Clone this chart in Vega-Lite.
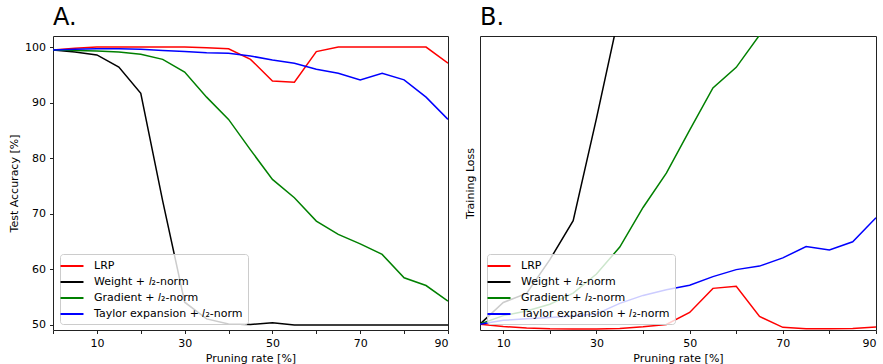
{
  "$schema": "https://vega.github.io/schema/vega-lite/v6.json",
  "padding": {"left": 8, "top": 5, "right": 3, "bottom": 1},
  "background": "white",
  "config": {
    "font": "DejaVu Sans",
    "view": {"stroke": "#222", "strokeWidth": 1},
    "axis": {"grid": false, "domain": false, "labelFontSize": 11, "titleFontSize": 11, "titleFontWeight": "normal", "labelColor": "#000", "titleColor": "#000", "tickColor": "#222", "tickSize": 3.5, "labelPadding": 4},
    "axisX": {"titlePadding": 3.5},
    "axisY": {"titlePadding": 5},
    "title": {"fontSize": 24, "fontWeight": "normal", "anchor": "start", "frame": "group", "color": "#000", "offset": 6},
    "legend": {"fillColor": "rgba(255,255,255,0.8)", "strokeColor": "#cccccc", "cornerRadius": 3, "padding": 5, "labelFontSize": 11, "labelColor": "#000", "symbolType": "M-2,0H2", "symbolSize": 132, "symbolStrokeWidth": 2, "labelOffset": 15, "rowPadding": 4, "labelLimit": 300}
  },
  "datasets": {
    "acc": [
      {"x": 0, "y": 99.5, "method": "LRP"}, {"x": 5, "y": 99.8, "method": "LRP"}, {"x": 10, "y": 100, "method": "LRP"}, {"x": 15, "y": 100, "method": "LRP"}, {"x": 20, "y": 100, "method": "LRP"}, {"x": 25, "y": 100, "method": "LRP"}, {"x": 30, "y": 100, "method": "LRP"}, {"x": 35, "y": 99.9, "method": "LRP"}, {"x": 40, "y": 99.7, "method": "LRP"}, {"x": 45, "y": 97.8, "method": "LRP"}, {"x": 50, "y": 93.9, "method": "LRP"}, {"x": 55, "y": 93.7, "method": "LRP"}, {"x": 60, "y": 99.2, "method": "LRP"}, {"x": 65, "y": 100, "method": "LRP"}, {"x": 70, "y": 100, "method": "LRP"}, {"x": 75, "y": 100, "method": "LRP"}, {"x": 80, "y": 100, "method": "LRP"}, {"x": 85, "y": 100, "method": "LRP"}, {"x": 90, "y": 97.1, "method": "LRP"},
      {"x": 0, "y": 99.5, "method": "Weight + 𝑙₂-norm"}, {"x": 5, "y": 99.1, "method": "Weight + 𝑙₂-norm"}, {"x": 10, "y": 98.6, "method": "Weight + 𝑙₂-norm"}, {"x": 15, "y": 96.4, "method": "Weight + 𝑙₂-norm"}, {"x": 20, "y": 91.7, "method": "Weight + 𝑙₂-norm"}, {"x": 25, "y": 72.3, "method": "Weight + 𝑙₂-norm"}, {"x": 30, "y": 54.1, "method": "Weight + 𝑙₂-norm"}, {"x": 35, "y": 51.1, "method": "Weight + 𝑙₂-norm"}, {"x": 40, "y": 50.2, "method": "Weight + 𝑙₂-norm"}, {"x": 45, "y": 50.1, "method": "Weight + 𝑙₂-norm"}, {"x": 50, "y": 50.4, "method": "Weight + 𝑙₂-norm"}, {"x": 55, "y": 50.0, "method": "Weight + 𝑙₂-norm"}, {"x": 60, "y": 50.0, "method": "Weight + 𝑙₂-norm"}, {"x": 65, "y": 50.0, "method": "Weight + 𝑙₂-norm"}, {"x": 70, "y": 50.0, "method": "Weight + 𝑙₂-norm"}, {"x": 75, "y": 50.0, "method": "Weight + 𝑙₂-norm"}, {"x": 80, "y": 50.0, "method": "Weight + 𝑙₂-norm"}, {"x": 85, "y": 50.0, "method": "Weight + 𝑙₂-norm"}, {"x": 90, "y": 50.0, "method": "Weight + 𝑙₂-norm"},
      {"x": 0, "y": 99.5, "method": "Gradient + 𝑙₂-norm"}, {"x": 5, "y": 99.4, "method": "Gradient + 𝑙₂-norm"}, {"x": 10, "y": 99.3, "method": "Gradient + 𝑙₂-norm"}, {"x": 15, "y": 99.1, "method": "Gradient + 𝑙₂-norm"}, {"x": 20, "y": 98.7, "method": "Gradient + 𝑙₂-norm"}, {"x": 25, "y": 97.8, "method": "Gradient + 𝑙₂-norm"}, {"x": 30, "y": 95.5, "method": "Gradient + 𝑙₂-norm"}, {"x": 35, "y": 91.0, "method": "Gradient + 𝑙₂-norm"}, {"x": 40, "y": 87.0, "method": "Gradient + 𝑙₂-norm"}, {"x": 45, "y": 81.5, "method": "Gradient + 𝑙₂-norm"}, {"x": 50, "y": 76.2, "method": "Gradient + 𝑙₂-norm"}, {"x": 55, "y": 72.9, "method": "Gradient + 𝑙₂-norm"}, {"x": 60, "y": 68.7, "method": "Gradient + 𝑙₂-norm"}, {"x": 65, "y": 66.3, "method": "Gradient + 𝑙₂-norm"}, {"x": 70, "y": 64.6, "method": "Gradient + 𝑙₂-norm"}, {"x": 75, "y": 62.7, "method": "Gradient + 𝑙₂-norm"}, {"x": 80, "y": 58.5, "method": "Gradient + 𝑙₂-norm"}, {"x": 85, "y": 57.1, "method": "Gradient + 𝑙₂-norm"}, {"x": 90, "y": 54.3, "method": "Gradient + 𝑙₂-norm"},
      {"x": 0, "y": 99.5, "method": "Taylor expansion + 𝑙₂-norm"}, {"x": 5, "y": 99.6, "method": "Taylor expansion + 𝑙₂-norm"}, {"x": 10, "y": 99.7, "method": "Taylor expansion + 𝑙₂-norm"}, {"x": 15, "y": 99.7, "method": "Taylor expansion + 𝑙₂-norm"}, {"x": 20, "y": 99.6, "method": "Taylor expansion + 𝑙₂-norm"}, {"x": 25, "y": 99.4, "method": "Taylor expansion + 𝑙₂-norm"}, {"x": 30, "y": 99.2, "method": "Taylor expansion + 𝑙₂-norm"}, {"x": 35, "y": 99.0, "method": "Taylor expansion + 𝑙₂-norm"}, {"x": 40, "y": 98.9, "method": "Taylor expansion + 𝑙₂-norm"}, {"x": 45, "y": 98.4, "method": "Taylor expansion + 𝑙₂-norm"}, {"x": 50, "y": 97.7, "method": "Taylor expansion + 𝑙₂-norm"}, {"x": 55, "y": 97.1, "method": "Taylor expansion + 𝑙₂-norm"}, {"x": 60, "y": 96.0, "method": "Taylor expansion + 𝑙₂-norm"}, {"x": 65, "y": 95.3, "method": "Taylor expansion + 𝑙₂-norm"}, {"x": 70, "y": 94.1, "method": "Taylor expansion + 𝑙₂-norm"}, {"x": 75, "y": 95.3, "method": "Taylor expansion + 𝑙₂-norm"}, {"x": 80, "y": 94.1, "method": "Taylor expansion + 𝑙₂-norm"}, {"x": 85, "y": 91.0, "method": "Taylor expansion + 𝑙₂-norm"}, {"x": 90, "y": 87.0, "method": "Taylor expansion + 𝑙₂-norm"}
    ],
    "loss": [
      {"x": 5, "y": 1.7, "method": "LRP"}, {"x": 10, "y": 0.9, "method": "LRP"}, {"x": 15, "y": 0.4, "method": "LRP"}, {"x": 20, "y": 0.1, "method": "LRP"}, {"x": 25, "y": 0.0, "method": "LRP"}, {"x": 30, "y": 0.0, "method": "LRP"}, {"x": 35, "y": 0.2, "method": "LRP"}, {"x": 40, "y": 0.8, "method": "LRP"}, {"x": 45, "y": 1.6, "method": "LRP"}, {"x": 50, "y": 5.7, "method": "LRP"}, {"x": 55, "y": 13.9, "method": "LRP"}, {"x": 60, "y": 14.6, "method": "LRP"}, {"x": 65, "y": 4.3, "method": "LRP"}, {"x": 70, "y": 0.6, "method": "LRP"}, {"x": 75, "y": 0.1, "method": "LRP"}, {"x": 80, "y": 0.1, "method": "LRP"}, {"x": 85, "y": 0.2, "method": "LRP"}, {"x": 90, "y": 0.7, "method": "LRP"},
      {"x": 5, "y": 1.7, "method": "Weight + 𝑙₂-norm"}, {"x": 10, "y": 9.1, "method": "Weight + 𝑙₂-norm"}, {"x": 15, "y": 12.2, "method": "Weight + 𝑙₂-norm"}, {"x": 20, "y": 23.7, "method": "Weight + 𝑙₂-norm"}, {"x": 25, "y": 37.0, "method": "Weight + 𝑙₂-norm"}, {"x": 30, "y": 71.9, "method": "Weight + 𝑙₂-norm"}, {"x": 35, "y": 108.5, "method": "Weight + 𝑙₂-norm"}, {"x": 40, "y": 140, "method": "Weight + 𝑙₂-norm"},
      {"x": 5, "y": 1.7, "method": "Gradient + 𝑙₂-norm"}, {"x": 10, "y": 4.6, "method": "Gradient + 𝑙₂-norm"}, {"x": 15, "y": 6.2, "method": "Gradient + 𝑙₂-norm"}, {"x": 20, "y": 8.5, "method": "Gradient + 𝑙₂-norm"}, {"x": 25, "y": 12.3, "method": "Gradient + 𝑙₂-norm"}, {"x": 30, "y": 18.8, "method": "Gradient + 𝑙₂-norm"}, {"x": 35, "y": 28.0, "method": "Gradient + 𝑙₂-norm"}, {"x": 40, "y": 41.5, "method": "Gradient + 𝑙₂-norm"}, {"x": 45, "y": 53.2, "method": "Gradient + 𝑙₂-norm"}, {"x": 50, "y": 67.9, "method": "Gradient + 𝑙₂-norm"}, {"x": 55, "y": 82.3, "method": "Gradient + 𝑙₂-norm"}, {"x": 60, "y": 89.3, "method": "Gradient + 𝑙₂-norm"}, {"x": 65, "y": 100.3, "method": "Gradient + 𝑙₂-norm"}, {"x": 70, "y": 115, "method": "Gradient + 𝑙₂-norm"},
      {"x": 5, "y": 1.7, "method": "Taylor expansion + 𝑙₂-norm"}, {"x": 10, "y": 3.0, "method": "Taylor expansion + 𝑙₂-norm"}, {"x": 15, "y": 3.5, "method": "Taylor expansion + 𝑙₂-norm"}, {"x": 20, "y": 4.0, "method": "Taylor expansion + 𝑙₂-norm"}, {"x": 25, "y": 4.5, "method": "Taylor expansion + 𝑙₂-norm"}, {"x": 30, "y": 5.2, "method": "Taylor expansion + 𝑙₂-norm"}, {"x": 35, "y": 8.8, "method": "Taylor expansion + 𝑙₂-norm"}, {"x": 40, "y": 11.5, "method": "Taylor expansion + 𝑙₂-norm"}, {"x": 45, "y": 13.4, "method": "Taylor expansion + 𝑙₂-norm"}, {"x": 50, "y": 15.0, "method": "Taylor expansion + 𝑙₂-norm"}, {"x": 55, "y": 17.9, "method": "Taylor expansion + 𝑙₂-norm"}, {"x": 60, "y": 20.3, "method": "Taylor expansion + 𝑙₂-norm"}, {"x": 65, "y": 21.5, "method": "Taylor expansion + 𝑙₂-norm"}, {"x": 70, "y": 24.3, "method": "Taylor expansion + 𝑙₂-norm"}, {"x": 75, "y": 28.2, "method": "Taylor expansion + 𝑙₂-norm"}, {"x": 80, "y": 27.0, "method": "Taylor expansion + 𝑙₂-norm"}, {"x": 85, "y": 29.8, "method": "Taylor expansion + 𝑙₂-norm"}, {"x": 90, "y": 38.0, "method": "Taylor expansion + 𝑙₂-norm"}
    ]
  },
  "spacing": 14,
  "resolve": {"scale": {"color": "independent", "x": "independent", "y": "independent"}, "legend": {"color": "independent"}},
  "hconcat": [
    {
      "title": "A.",
      "width": 395,
      "height": 294,
      "data": {"name": "acc"},
      "mark": {"type": "line", "clip": true, "strokeWidth": 1.5},
      "encoding": {
        "x": {"field": "x", "type": "quantitative", "title": "Pruning rate [%]", "scale": {"domain": [0, 90], "nice": false, "zero": false}, "axis": {"values": [0, 10, 20, 30, 40, 50, 60, 70, 80, 90], "labelExpr": "datum.value % 20 == 10 ? datum.label : ''"}},
        "y": {"field": "y", "type": "quantitative", "title": "Test Accuracy [%]", "scale": {"domain": [49.1, 102], "nice": false, "zero": false}, "axis": {"values": [50, 60, 70, 80, 90, 100]}},
        "color": {"field": "method", "type": "nominal", "sort": ["LRP", "Weight + 𝑙₂-norm", "Gradient + 𝑙₂-norm", "Taylor expansion + 𝑙₂-norm"], "scale": {"domain": ["LRP", "Weight + 𝑙₂-norm", "Gradient + 𝑙₂-norm", "Taylor expansion + 𝑙₂-norm"], "range": ["#ff0000", "#000000", "#008000", "#0000ff"]}, "legend": {"title": null, "orient": "none", "legendX": 7, "legendY": 218}}
      }
    },
    {
      "title": "B.",
      "width": 396,
      "height": 294,
      "data": {"name": "loss"},
      "mark": {"type": "line", "clip": true, "strokeWidth": 1.5},
      "encoding": {
        "x": {"field": "x", "type": "quantitative", "title": "Pruning rate [%]", "scale": {"domain": [5, 90], "nice": false, "zero": false}, "axis": {"values": [10, 20, 30, 40, 50, 60, 70, 80, 90], "labelExpr": "datum.value % 20 == 10 ? datum.label : ''"}},
        "y": {"field": "y", "type": "quantitative", "title": "Training Loss", "scale": {"domain": [-0.3, 100], "nice": false, "zero": false}, "axis": {"labels": false, "ticks": false}},
        "color": {"field": "method", "type": "nominal", "sort": ["LRP", "Weight + 𝑙₂-norm", "Gradient + 𝑙₂-norm", "Taylor expansion + 𝑙₂-norm"], "scale": {"domain": ["LRP", "Weight + 𝑙₂-norm", "Gradient + 𝑙₂-norm", "Taylor expansion + 𝑙₂-norm"], "range": ["#ff0000", "#000000", "#008000", "#0000ff"]}, "legend": {"title": null, "orient": "none", "legendX": 7, "legendY": 218}}
      }
    }
  ]
}
